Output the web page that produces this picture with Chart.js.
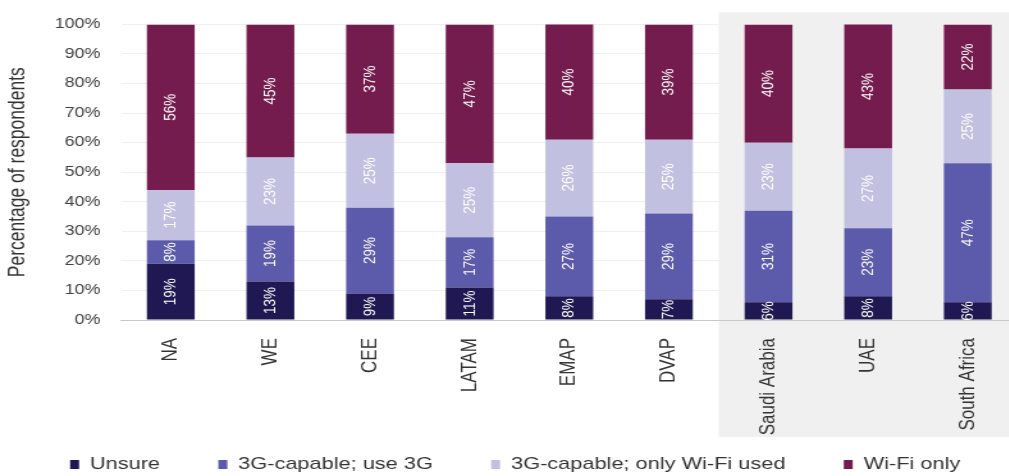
<!DOCTYPE html>
<html>
<head>
<meta charset="utf-8">
<script src="https://cdn.jsdelivr.net/npm/chart.js@4.4.1/dist/chart.umd.min.js"></script>
<style>
  html, body { margin: 0; padding: 0; background: #ffffff; overflow: hidden; }
  #wrap { position: absolute; left: 0; top: 0; width: 800px; height: 476px; transform: scaleX(1.28); transform-origin: 0 0; }
  canvas { display: block; }
</style>
</head>
<body>
<div id="wrap"><canvas id="c" width="800" height="476"></canvas></div>
<script>
const categories = ["NA", "WE", "CEE", "LATAM", "EMAP", "DVAP", "Saudi Arabia", "UAE", "South Africa"];
const unsure      = [19, 13, 9, 11, 8, 7, 6, 8, 6];
const use3G       = [8, 19, 29, 17, 27, 29, 31, 23, 47];
const onlyWifi    = [17, 23, 25, 25, 26, 25, 23, 27, 25];
const wifiOnly    = [56, 45, 37, 47, 40, 39, 40, 43, 22];
const seriesNames = ["Unsure", "3G-capable; use 3G", "3G-capable; only Wi-Fi used", "Wi-Fi only"];
const yTicks      = [0, 10, 20, 30, 40, 50, 60, 70, 80, 90, 100];
const shadedFrom  = 6; // index of first highlighted category

const colors = ["#1f1852", "#5c5aaa", "#c2c0e0", "#741c4d"];
const FONT = "'Liberation Sans', Arial, sans-serif";

const shadePlugin = {
  id: 'shade',
  beforeDraw(chart) {
    const {ctx, chartArea} = chart;
    const x = chart.scales.x;
    const left = x.getPixelForValue(shadedFrom - 0.5);
    const top = chartArea.top - 12;
    const bottom = x.bottom;
    ctx.save();
    ctx.fillStyle = '#f0f0f0';
    ctx.fillRect(left, top, chart.width - left, bottom - top);
    ctx.restore();
  }
};

const legendPlacePlugin = {
  id: 'legendPlace',
  beforeLayout(chart) {
    const lg = chart.legend;
    if (lg && !lg._fitPatched) {
      const origFit = lg.fit;
      lg.fit = function () { origFit.call(this); this.height = 39; };
      lg._fitPatched = true;
    }
  },
  afterLayout(chart) {
    const lg = chart.legend;
    if (lg) {
      lg.top -= 26.5;
      lg.bottom = chart.height;
      lg.height = lg.bottom - lg.top;
      lg.left += 5; lg.right += 5;
    }
  }
};

const labelPlugin = {
  id: 'barLabels',
  afterDatasetsDraw(chart) {
    const {ctx} = chart;
    ctx.save();
    ctx.font = "13.5px " + FONT;
    ctx.fillStyle = '#ffffff';
    ctx.textAlign = 'center';
    ctx.textBaseline = 'middle';
    chart.data.datasets.forEach((ds, di) => {
      const meta = chart.getDatasetMeta(di);
      meta.data.forEach((bar, i) => {
        const v = ds.data[i];
        const top = Math.max(bar.y, chart.chartArea.top);
        const cy = (top + bar.base) / 2;
        ctx.save();
        ctx.translate(bar.x, cy);
        ctx.rotate(-Math.PI / 2);
        ctx.fillText(v + '%', 0, 0);
        ctx.restore();
      });
    });
    ctx.restore();
  }
};

const dataSets = [unsure, use3G, onlyWifi, wifiOnly].map((d, i) => ({
  label: seriesNames[i],
  data: d,
  backgroundColor: colors[i],
  borderWidth: 0,
  barPercentage: 0.48,
  categoryPercentage: 1.0
}));

new Chart(document.getElementById('c'), {
  type: 'bar',
  data: { labels: categories, datasets: dataSets },
  options: {
    responsive: false,
    animation: false,
    devicePixelRatio: 1,
    layout: { padding: { top: 18, right: 5, left: 0, bottom: 0 } },
    plugins: {
      legend: {
        position: 'bottom',
        labels: {
          boxWidth: 7,
          boxHeight: 9,
          padding: 45.5,
          color: '#333333',
          font: { family: FONT, size: 17 }
        }
      },
      tooltip: { enabled: false }
    },
    scales: {
      x: {
        stacked: true,
        grid: { display: false },
        border: { display: true, color: '#c8c8c8' },
        ticks: {
          minRotation: 90,
          maxRotation: 90,
          autoSkip: false,
          padding: 10,
          color: '#333333',
          font: { family: FONT, size: 17 }
        },
        afterFit(scale) { scale.height = 117; }
      },
      y: {
        stacked: true,
        min: 0,
        max: 100,
        afterBuildTicks(scale) { scale.ticks = yTicks.map(v => ({ value: v })); },
        grid: { color: '#f0f0f0', drawTicks: false },
        border: { display: false },
        ticks: {
          padding: 16,
          color: '#404040',
          font: { family: FONT, size: 14 },
          callback: v => v + '%'
        },
        title: {
          display: true,
          text: 'Percentage of respondents',
          color: '#333333',
          font: { family: FONT, size: 17.5 },
          padding: { top: 4, bottom: 0 }
        },
        afterFit(scale) { scale.width = 94.5; }
      }
    }
  },
  plugins: [shadePlugin, legendPlacePlugin, labelPlugin]
});
</script>
</body>
</html>
